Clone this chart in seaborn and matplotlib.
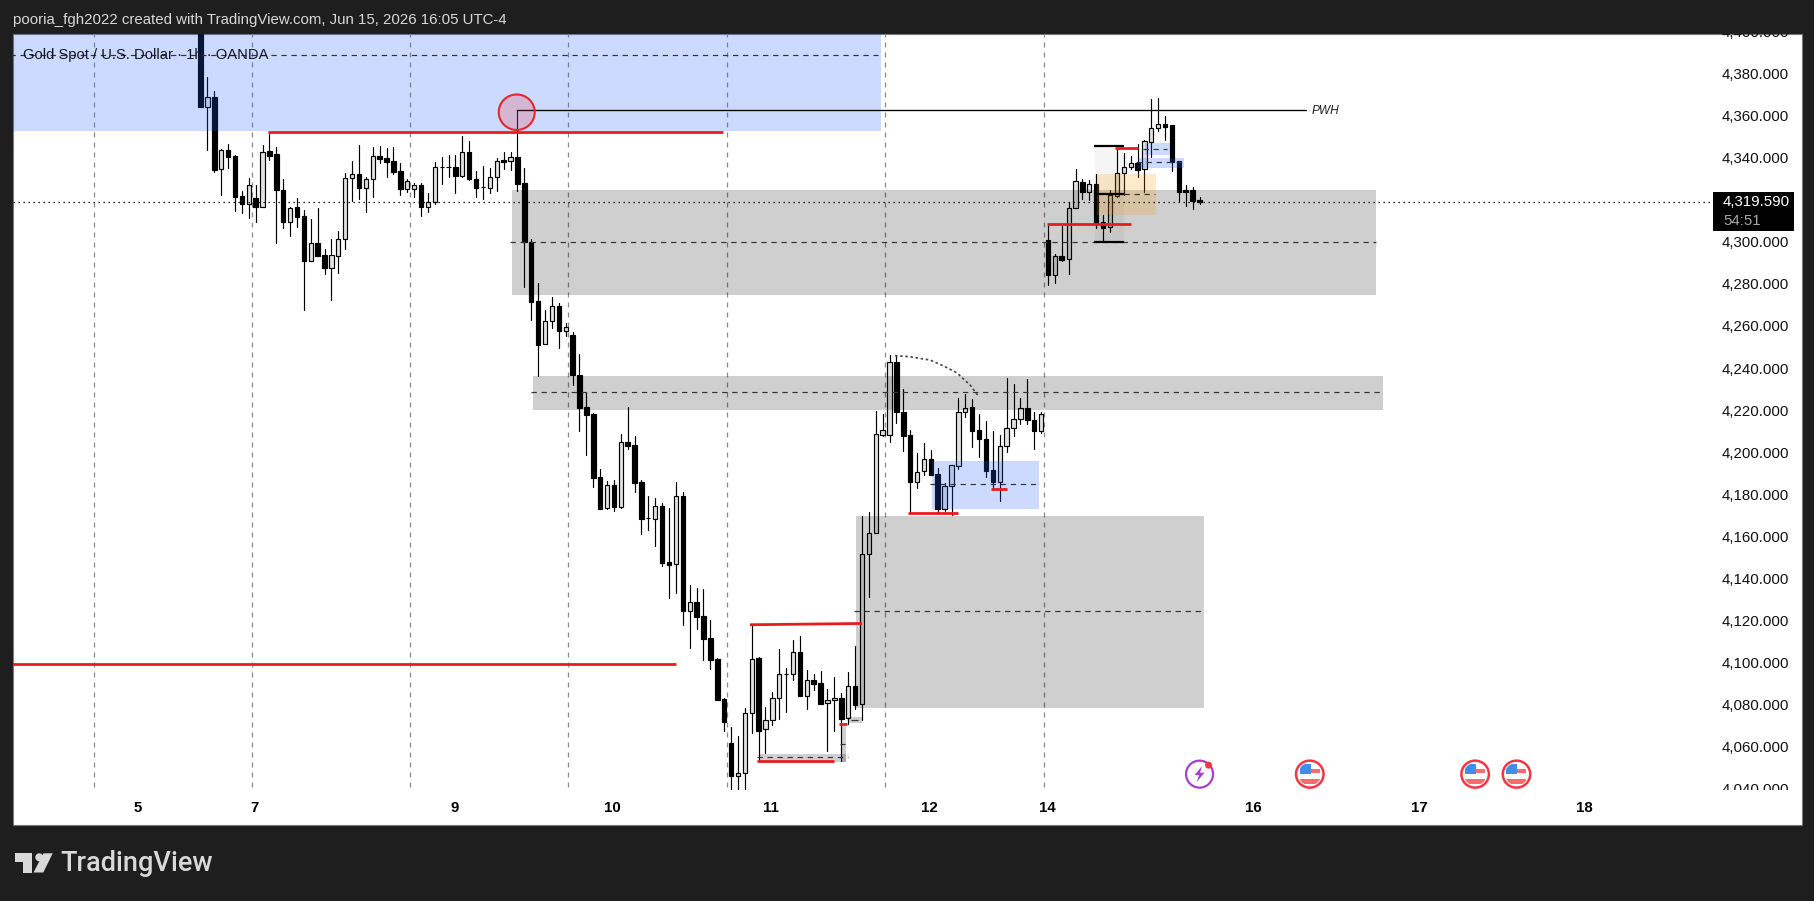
import numpy as np
import pandas as pd
import matplotlib
matplotlib.use("Agg")
import matplotlib.pyplot as plt
import seaborn as sns
from matplotlib.patches import Rectangle, Ellipse, Polygon

W, H = 1815, 901

# candles, one entry per hour bar
opens = [4420, 4364.9, 4369.3, 4335.1, 4344.3, 4341.5, 4322.5, 4318.5, 4321.4, 4317.1,
         4343.7, 4342.3, 4325.3, 4310.3, 4317.1, 4313, 4291.7, 4300, 4294.3, 4288.4,
         4294.1, 4301.9, 4330.9, 4332.9, 4326.4, 4330.4, 4341.5, 4340.4, 4338.9, 4334.2,
         4325.9, 4325.9, 4327.5, 4317.1, 4319.5, 4336.1, 4336.1, 4336.1, 4332.1, 4343.2,
         4330.4, 4326.6, 4326.1, 4331.6, 4339.4, 4339.2, 4340.8, 4328.6, 4300.4, 4272.6,
         4252, 4262.9, 4270, 4258.5, 4256.3, 4237.4, 4222.2, 4218.9, 4188.9, 4174,
         4185.2, 4174.8, 4205.6, 4204.2, 4186.6, 4169.3, 4168.8, 4175.2, 4148.5, 4147.8,
         4179.9, 4125.4, 4129.4, 4122.9, 4112.3, 4102.4, 4083.3, 4062.4, 4047, 4048.1,
         4076.6, 4102.9, 4069, 4073.2, 4083.8, 4095.2, 4095.2, 4105.6, 4085, 4092.3,
         4090.9, 4081.4, 4082.8, 4083.8, 4074.3, 4089.6, 4080.9, 4152.2, 4162.2, 4209.1,
         4208.8, 4243.4, 4219.7, 4208.7, 4186.7, 4191.6, 4197.3, 4190.2, 4173.6, 4184.6,
         4194.3, 4219.7, 4222, 4211.1, 4206.8, 4192.1, 4186.7, 4203.8, 4212.1, 4216.3,
         4221.6, 4215.9, 4210.9, 4301.6, 4285, 4294, 4292.4, 4316.6, 4329, 4324.5,
         4328, 4310, 4307.9, 4322.6, 4333.6, 4336.4, 4338, 4335.2, 4348.3, 4354.6,
         4356.7, 4356.2, 4339.1, 4325.2, 4325.2, 4320.6]
highs = [4430, 4378.9, 4372.4, 4344.6, 4347.2, 4341.9, 4324.8, 4330.9, 4327.7, 4346.7,
         4353, 4345.9, 4330.5, 4317.1, 4321.4, 4315.8, 4311.5, 4316.6, 4297.3, 4302,
         4305.8, 4333.2, 4338.9, 4346.7, 4331.6, 4345.6, 4346.2, 4345.4, 4345.6, 4338,
         4330.4, 4328.8, 4328.8, 4324, 4338.5, 4340.8, 4341.9, 4341.9, 4351, 4348.6,
         4334.3, 4336.7, 4335.9, 4340.4, 4343.2, 4343.5, 4363.3, 4335.6, 4301.9, 4281,
         4268.3, 4274.3, 4271.5, 4262, 4257.7, 4247.4, 4229.2, 4219.2, 4192.7, 4187,
         4187.5, 4209.4, 4222.2, 4208.4, 4187.5, 4179.9, 4178.8, 4176.4, 4174, 4186.6,
         4181.8, 4137.6, 4136, 4135.7, 4121, 4102.9, 4083.8, 4070, 4065.9, 4079,
         4118.6, 4103.2, 4079.5, 4086.6, 4107.2, 4098, 4111.5, 4113.4, 4097.2, 4095.3,
         4096.8, 4088, 4093.9, 4086.1, 4096.3, 4108.6, 4170.4, 4172.2, 4220.3, 4218.9,
         4246.9, 4246.9, 4230.6, 4211.3, 4200.2, 4204.9, 4201.8, 4193, 4185.9, 4194.5,
         4226.3, 4228.2, 4225.8, 4218.9, 4215.5, 4210.8, 4208.9, 4235.8, 4233, 4226.3,
         4235.3, 4220, 4219.8, 4308.7, 4294.9, 4308.2, 4319.5, 4335.3, 4330.4, 4330.1,
         4333, 4313.4, 4325.3, 4345.1, 4342.8, 4341.5, 4347.2, 4349.1, 4368.4, 4368.9,
         4360.5, 4356.2, 4339.1, 4327.7, 4326.8, 4322]
lows = [4364.9, 4344.3, 4334, 4322.9, 4335.6, 4315.5, 4314.2, 4311.8, 4310.3, 4317.1,
        4339.6, 4300, 4307.1, 4303.6, 4307.9, 4268.3, 4291.7, 4294.1, 4285.4, 4273,
        4286, 4297.3, 4320.1, 4321, 4315, 4322.1, 4338, 4331.6, 4332.9, 4322.9,
        4324.5, 4322.1, 4313, 4314.9, 4318.5, 4328.2, 4331.3, 4324, 4331.6, 4330,
        4322.1, 4321, 4324, 4325, 4335.3, 4334.8, 4325, 4279, 4263.5, 4237.1,
        4252, 4259.9, 4250.4, 4256.1, 4232.7, 4210.8, 4199.4, 4184.4, 4173.7, 4173.7,
        4172.8, 4174.4, 4202.3, 4182, 4161.9, 4163.8, 4156.3, 4146.8, 4131.6, 4134,
        4118.8, 4107.8, 4116.9, 4102.1, 4097.9, 4082.7, 4068.3, 4039.9, 4039.9, 4039.9,
        4067.4, 4054.1, 4057.6, 4071.1, 4074, 4077.3, 4092.5, 4085, 4078.7, 4087.7,
        4080.8, 4058.9, 4068.3, 4054.1, 4071.6, 4078.7, 4073.4, 4132.1, 4162.2, 4208.6,
        4205.7, 4214.8, 4201.4, 4172.1, 4183.6, 4189.9, 4190, 4172.5, 4172.9, 4170.9,
        4192.7, 4217.6, 4203.4, 4198.3, 4189.1, 4183.6, 4177.5, 4201, 4208.4, 4214.1,
        4214.1, 4202.4, 4210, 4280.2, 4281.3, 4291.8, 4285.4, 4316.6, 4321, 4320.6,
        4307.4, 4300.8, 4305.5, 4322.2, 4323, 4335.2, 4331.7, 4324.5, 4341.2, 4353.5,
        4349.1, 4334.5, 4320.1, 4317.8, 4316.3, 4318.9]
closes = [4364.9, 4369.3, 4334.8, 4344.3, 4341.2, 4322.1, 4318.5, 4327.5, 4317.1, 4343.5,
          4341.6, 4325.3, 4310.3, 4316.6, 4312.6, 4291.7, 4300, 4294.1, 4288.4, 4294.3,
          4301.9, 4330.9, 4332.8, 4326.4, 4330.4, 4341.3, 4340.2, 4338.8, 4333.9, 4325.9,
          4329.4, 4327.5, 4317.4, 4319.5, 4336.1, 4336.1, 4336.1, 4332.1, 4343.2, 4330.4,
          4326.4, 4326.6, 4331.6, 4338.9, 4338.8, 4340.8, 4328.2, 4300.4, 4272.3, 4251.7,
          4262.9, 4270, 4258.5, 4260, 4237.4, 4221.9, 4218.6, 4188.6, 4173.7, 4185,
          4174.8, 4205.4, 4203.7, 4186.3, 4169.1, 4169.3, 4175, 4148.2, 4147.3, 4179.8,
          4125.4, 4129.4, 4122.6, 4112.1, 4102.1, 4083.1, 4072.7, 4047, 4048.1, 4076.6,
          4102.3, 4068.4, 4073.2, 4083.8, 4095.2, 4095.2, 4105.6, 4085, 4092.3, 4090.7,
          4080.8, 4082.8, 4083.8, 4074, 4089.5, 4080.6, 4152.2, 4162.2, 4209.2, 4211.1,
          4243.4, 4220, 4208.6, 4186.7, 4191.5, 4197.3, 4190, 4173.6, 4184.6, 4194.5,
          4219.7, 4221.9, 4210.9, 4206.8, 4191.9, 4186.7, 4203.8, 4212.1, 4216.3, 4221.6,
          4215.9, 4210.9, 4218.7, 4284.9, 4293.8, 4292.1, 4316.6, 4329.5, 4324.5, 4328,
          4309.5, 4307.4, 4323, 4333.6, 4336.1, 4338, 4334.8, 4348.5, 4354.6, 4356.5,
          4355.4, 4338.5, 4324.5, 4324.5, 4320.1, 4319.59]

price_ticks = [4400, 4380, 4360, 4340, 4300, 4280, 4260, 4240, 4220, 4200, 4180,
               4160, 4140, 4120, 4100, 4080, 4060, 4040]
day_pos = [-9.15, 7.85, 36.85, 59.85, 82.85, 105.85, 122.85, 152.85, 176.85, 200.85]
day_labels = ["5", "7", "9", "10", "11", "12", "14", "16", "17", "18"]
session_pos = [-15.5, 7.5, 30.45, 53.4, 76.45, 99.4, 122.45]
last_price = 4319.59

# grey zones: x start, x end, low, high, mid
grey_x0 = [45.2, 48.3, 95.1]
grey_x1 = [170.6, 171.6, 145.7]
grey_lo = [4275.4, 4220.7, 4079.3]
grey_hi = [4325.3, 4236.9, 4170.4]
grey_mid = [4300.5, 4229.2, 4125.1]

# blue zones
blue_x0 = [-27.3, 106.2, 137.1, 136.1]
blue_x1 = [98.8, 121.7, 140.7, 142.8]
blue_lo = [4353.5, 4173.7, 4342, 4335.8]
blue_hi = [4430, 4196.5, 4347.8, 4340.5]
blue_mid = [4389.5, 4185.5, 4345, 4338.5]

# thin grey strips at the bottom of the range
strip_x0 = [81.2, 93.06, 94]
strip_x1 = [93.7, 93.7, 96]
strip_lo = [4053.6, 4053.6, 4072.1]
strip_hi = [4057.3, 4070.7, 4075]

# red levels
red_x0 = [9.8, -27.3, 79.75, 80.8, 92.7, 102.7, 114.7, 122.8, 132.7]
red_x1 = [75.9, 69, 96, 92, 93.9, 110, 117, 135, 136]
red_y0 = [4353, 4100.1, 4118.7, 4053.8, 4071.5, 4172, 4183.2, 4309.3, 4345.4]
red_y1 = [4353, 4100.1, 4119.3, 4053.8, 4071.5, 4172, 4183.2, 4309.3, 4345.4]

arc_x = [100.8, 102.9, 105.9, 107.8, 109.8, 111.7, 112.9]
arc_y = [4246.6, 4246.1, 4244.5, 4241.8, 4238.4, 4232.6, 4227.4]

event_x = [145, 161, 185, 191]

sns.set_theme(style="white")
plt.rcParams["font.family"] = ["Liberation Sans", "DejaVu Sans"]

DX, DY = 6.89, 2.104  # pixels per bar, pixels per dollar


def fx(x):
    return x / W


def fy(y):
    return 1 - y / H


fig = plt.figure(figsize=(W / 100, H / 100), dpi=100, facecolor="#1e1e1e")
fig.add_artist(Rectangle((fx(13), fy(825)), (1802 - 13) / W, (825 - 34) / H, transform=fig.transFigure,
                         facecolor="white", edgecolor="#787878", linewidth=0.8, zorder=-1))
ax = fig.add_axes([fx(13), fy(790), (1802 - 13) / W, (790 - 34) / H])
ax.patch.set_alpha(0)

df = pd.DataFrame({"bar": np.arange(len(opens)), "open": opens, "high": highs, "low": lows, "close": closes})
df["top"] = df[["open", "close"]].max(axis=1)
df["bottom"] = df[["open", "close"]].min(axis=1)
df["size"] = df["top"] - df["bottom"]
wicks = df.melt(id_vars="bar", value_vars=["high", "low"], value_name="price").sort_values(["bar", "price"])

sns.lineplot(data=wicks, x="bar", y="price", units="bar", estimator=None, color="black",
             linewidth=0.85, ax=ax, zorder=2, legend=False)
up = df[df["close"] >= df["open"]]
down = df[df["close"] < df["open"]]
sns.barplot(data=up, x="bar", y="size", bottom=up["bottom"].values, native_scale=True, width=0.62, color="#e2e2e2",
            saturation=1, errorbar=None, edgecolor="black", linewidth=0.85, ax=ax, zorder=2.1)
sns.barplot(data=down, x="bar", y="size", bottom=down["bottom"].values, native_scale=True, width=0.66, color="black",
            saturation=1, errorbar=None, edgecolor="black", linewidth=0.85, ax=ax, zorder=2.1)

ax.set_xlim((13 - 200.5) / DX, (1802 - 200.5) / DX)
ax.set_ylim(4300 - (790 - 243.3) / DY, 4300 + (243.3 - 34) / DY)
ax.set_xlabel("")
ax.set_ylabel("")
sns.despine(ax=ax, left=True, bottom=True, right=True, top=True)
ax.set_xticks(day_pos, day_labels, fontsize=10.8, fontweight="bold", color="black")
ax.set_yticks([])
ax.tick_params(axis="x", length=0, pad=8)

# session separators
ax.vlines(session_pos, 4041.5, 4400, color="#8c8c8c", linewidth=0.9, linestyles=(0, (4, 4)), zorder=1)

DASH = (0, (4.5, 4))
for x0, x1, lo, hi, mid in zip(grey_x0, grey_x1, grey_lo, grey_hi, grey_mid):
    ax.add_patch(Rectangle((x0, lo), x1 - x0, hi - lo, facecolor="black", alpha=0.19, linewidth=0, zorder=3))
    ax.hlines(mid, x0 - 0.3, x1, color="#333333", linewidth=0.85, linestyles=DASH, zorder=3.2)
for x0, x1, lo, hi, mid in zip(blue_x0, blue_x1, blue_lo, blue_hi, blue_mid):
    ax.add_patch(Rectangle((x0, lo), x1 - x0, hi - lo, facecolor="#2962ff", alpha=0.23, linewidth=0, zorder=3))
    ax.hlines(mid, x0 - 0.3, x1 - 0.4, color="#333333", linewidth=0.85, linestyles=DASH, zorder=3.2)
for x0, x1, lo, hi in zip(strip_x0, strip_x1, strip_lo, strip_hi):
    ax.add_patch(Rectangle((x0, lo), x1 - x0, hi - lo, facecolor="black", alpha=0.19, linewidth=0, zorder=3))
ax.hlines(4055.7, 80.8, 94, color="#333333", linewidth=0.85, linestyles=DASH, zorder=3.2)
ax.hlines([4062.2, 4073.6], [92.8, 94.4], [93.5, 95.4], color="#333333", linewidth=0.85, zorder=3.2)

# fib style block and order block near the highs
ax.add_patch(Rectangle((129.8, 4300.8), 4.2, 45.6, facecolor="black", alpha=0.04, linewidth=0, zorder=3))
ax.add_patch(Rectangle((130.1, 4313.4), 8.6, 19.6, facecolor="#ff9800", alpha=0.2, linewidth=0, zorder=3.1))
ax.hlines([4346.4, 4323.3, 4300.8], 129.7, 134, color="black", linewidth=1.6, zorder=3.4)
ax.hlines(4323.3, 134, 138.5, color="#333333", linewidth=0.85, linestyles=DASH, zorder=3.2)

for x0, x1, y0, y1 in zip(red_x0, red_x1, red_y0, red_y1):
    ax.plot([x0, x1], [y0, y1], color="#e81c1c", linewidth=2, solid_capstyle="butt", zorder=3.5)

# previous week high
ax.plot([46, 160.4], [4363.4, 4363.4], color="black", linewidth=0.95, zorder=3.3)
ax.text(161.3, 4363, "PWH", fontsize=8.6, style="italic", color="#222222", va="center", ha="left", zorder=4)
ax.add_patch(Ellipse((45.9, 4362.3), 36 / DX, 35.5 / DY, facecolor=(0.95, 0.15, 0.15, 0.2),
                     edgecolor="#e5262b", linewidth=1.5, zorder=3.6))

sns.lineplot(x=arc_x, y=arc_y, color="#444444", linewidth=1.2, linestyle=(0, (1.5, 1.6)), ax=ax, zorder=3.5)

ax.text(-25.8, 4389.7, "Gold Spot / U.S. Dollar · 1h · OANDA", fontsize=10.6, color="#131722", va="center", zorder=4)

# last price line and tag
ax.hlines(last_price, (13 - 200.5) / DX, (1710 - 200.5) / DX, color="black", linewidth=0.9, linestyles=(0, (1.1, 2.9)), zorder=3.3)
ax.add_patch(Rectangle((219.5, 4306), 11.75, 18.5, facecolor="black", linewidth=0, zorder=5))
ax.text((1790 - 200.5) / DX, 4324 - 4.6, "4,319.590", fontsize=10.8, color="white", ha="right", va="center", zorder=6)
ax.text((1723 - 200.5) / DX, 4310.6, "54:51", fontsize=10.8, color="#a8a8a8", ha="left", va="center", zorder=6)

for p in price_ticks:
    ax.text((1789 - 200.5) / DX, p, f"{p:,.3f}", fontsize=10.8, color="#111111", ha="right", va="center", clip_on=True, zorder=4)


# economic calendar marks
def flag_icon(x, y):
    ring = Ellipse((x, y), 27.5 / DX, 27 / DY, facecolor="white", edgecolor="#f23645", linewidth=1.8, zorder=4)
    ax.add_patch(ring)
    parts = [(-10, -10, 20, 5, "#f76d6d"), (-10, 1.5, 20, 4, "#f76d6d"), (-10, 0, 11, 10, "#3f8ee8")]
    for px, py, pw, ph, col in parts:
        r = Rectangle((x + px / DX, y + py / DY), pw / DX, ph / DY, facecolor=col, linewidth=0, zorder=4.1)
        ax.add_patch(r)
        r.set_clip_path(Ellipse((x, y), 23 / DX, 22.5 / DY, transform=ax.transData))


def bolt_icon(x, y):
    ax.add_patch(Ellipse((x, y), 27 / DX, 27 / DY, facecolor="white", edgecolor="#a63fc9", linewidth=1.6, zorder=4))
    pts = [(2.5, 8), (-5, -1), (-0.5, -1), (-3, -8), (5, 1.5), (0.5, 1.5)]
    ax.add_patch(Polygon([(x + a / DX, y + b / DY) for a, b in pts], facecolor="#a63fc9", linewidth=0, zorder=4.1))
    ax.add_patch(Ellipse((x + 9 / DX, y + 9 / DY), 7 / DX, 7 / DY, facecolor="#f23645", linewidth=0, zorder=4.2))


bolt_icon(event_x[0], 4047.7)
for ev in event_x[1:]:
    flag_icon(ev, 4047.7)

# header and footer live on the dark frame
fig.text(fx(13), fy(20), "pooria_fgh2022 created with TradingView.com, Jun 15, 2026 16:05 UTC-4", color="#d8d8d8",
         fontsize=10.8, va="center")
fig.text(fx(60), fy(863.5), "TradingView", color="#d9d9d9", fontsize=19.5, fontfamily="Roboto", fontweight="medium", va="center")
logo = "#d9d9d9"
fig.add_artist(Polygon([(fx(a), fy(b)) for a, b in [(15, 853.3), (32, 853.3), (32, 872.5), (23, 872.5), (23, 861.5), (15, 861.5)]],
                       transform=fig.transFigure, facecolor=logo, linewidth=0))
fig.add_artist(Ellipse((fx(39.3), fy(857.3)), 8 / W, 8 / H, transform=fig.transFigure, facecolor=logo, linewidth=0))
fig.add_artist(Polygon([(fx(a), fy(b)) for a, b in [(43.5, 853.3), (52.7, 853.3), (43.3, 872.5), (33.5, 872.5)]],
                       transform=fig.transFigure, facecolor=logo, linewidth=0))

fig.savefig("out.png", dpi=100, facecolor=fig.get_facecolor())
